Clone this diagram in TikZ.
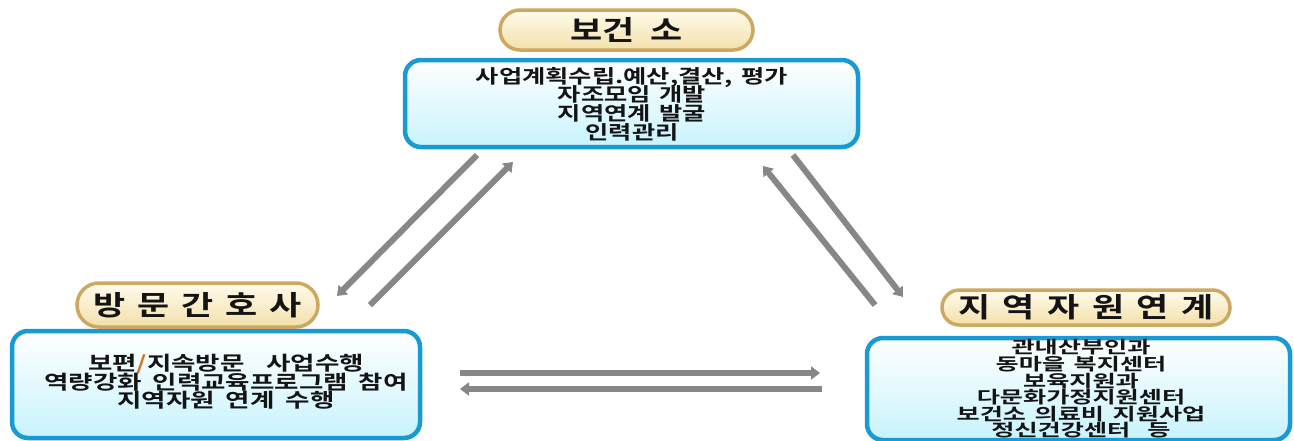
\documentclass[tikz,border=0pt]{standalone}
\usepackage{fontspec}
\newfontfamily\krA[FakeStretch=1.33,WordSpace=1.5]{Noto Sans CJK KR Bold}
\newfontfamily\krB[FakeStretch=1.36,WordSpace=1.8]{Noto Sans CJK KR Bold}
\newfontfamily\krC[FakeStretch=1.48,WordSpace=1.5]{Noto Sans CJK KR Bold}
\newfontfamily\krp[FakeStretch=1.27,WordSpace=2]{Noto Sans CJK KR Bold}
\newcommand\tightlinesK{\lineskiplimit=-100pt\relax}
\usetikzlibrary{arrows.meta,shapes.misc}
\definecolor{boxblue}{RGB}{24,154,212}
\definecolor{boxfill}{RGB}{200,243,253}
\definecolor{pillgold}{RGB}{204,168,96}
\definecolor{pilltop}{RGB}{255,251,236}
\definecolor{pillbot}{RGB}{243,224,170}
\definecolor{arrgray}{RGB}{135,135,135}
\definecolor{slashcol}{RGB}{205,120,40}
\definecolor{inktext}{RGB}{20,20,20}
\begin{document}
\begin{tikzpicture}[x=1pt,y=-1pt,
  infobox/.style={draw=boxblue, line width=4.5pt, rounded corners=16pt,
    top color=white, bottom color=boxfill, inner sep=0pt},
  boxtext/.style={align=center, text=inktext, inner sep=0pt},
  pill/.style={rounded rectangle, draw=pillgold, line width=3.5pt,
    top color=pilltop, bottom color=pillbot, inner sep=0pt,
    text=inktext, font=\krp\fontsize{27.5}{27}\selectfont},
  conn/.style={draw=arrgray, line width=6pt,
    -{Triangle[width=13pt,length=9pt]}}]
\useasboundingbox (0,0) rectangle (1294,440);
% boxes
\node[infobox, minimum width=453pt, minimum height=87pt] (topbox) at (631.5,103.5) {};
\node[infobox, minimum width=408pt, minimum height=107pt] (leftbox) at (216,384.5) {};
\node[infobox, minimum width=423pt, minimum height=102pt] (rightbox) at (1078.5,389) {};
% pills
\node[pill, minimum width=253pt, minimum height=40pt] (toppill) at (626.5,30) {보건 소};
\node[pill, minimum width=241pt, minimum height=44pt] (leftpill) at (197.5,305)
  {방\hspace{12pt}문\hspace{12pt}간\hspace{12pt}호\hspace{12pt}사};
\node[pill, minimum width=288pt, minimum height=35pt] (rightpill) at (1086,307.5)
  {지\hspace{12.5pt}역\hspace{12.5pt}자\hspace{12.5pt}원\hspace{12.5pt}연\hspace{12.5pt}계};
% texts
\node[boxtext, font=\krA\fontsize{19}{18.6}\selectfont\tightlinesK] (toptext) at (632,104)
  {사업계획수립.예산,결산, 평가\\자조모임 개발\\지역연계 발굴\\인력관리};
\node[boxtext, font=\krB\fontsize{19.5}{18.6}\selectfont\tightlinesK] (lefttext) at (226,382)
  {보편{\color{slashcol}/}지속방문 \ 사업수행\\역량강화 인력교육프로그램 참여\\지역자원 연계 수행};
\node[boxtext, font=\krC\fontsize{17}{16.6}\selectfont\tightlinesK] (righttext) at (1081,389)
  {관내산부인과\\동마을 복지센터\\보육지원과\\다문화가정지원센터\\보건소 의료비 지원사업\\정신건강센터 \ 등};
% connector endpoints
\coordinate (a1s) at (477,155);
\coordinate (a1e) at (337,296);
\coordinate (a2s) at (370,305);
\coordinate (a2e) at (513,162);
\coordinate (a3s) at (875,305);
\coordinate (a3e) at (763,166);
\coordinate (a4s) at (793,155);
\coordinate (a4e) at (903,297);
\coordinate (a5s) at (460,373);
\coordinate (a5e) at (820,373);
\coordinate (a6s) at (822,389);
\coordinate (a6e) at (460,389);
\draw[conn] (a1s) -- (a1e);
\draw[conn] (a2s) -- (a2e);
\draw[conn] (a3s) -- (a3e);
\draw[conn] (a4s) -- (a4e);
\draw[conn] (a5s) -- (a5e);
\draw[conn] (a6s) -- (a6e);
\end{tikzpicture}
\end{document}
